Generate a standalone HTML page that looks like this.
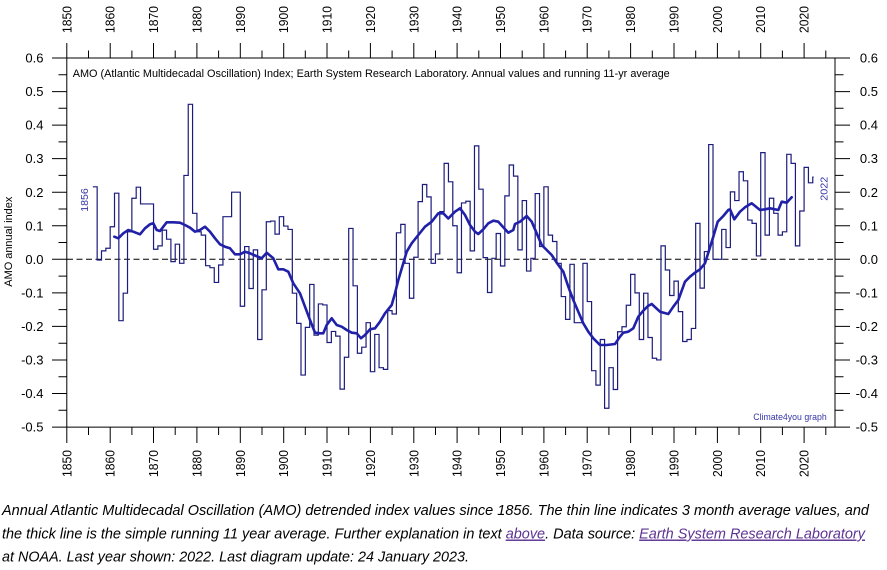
<!DOCTYPE html>
<html>
<head>
<meta charset="utf-8">
<style>
  html,body{margin:0;padding:0;background:#fff;}
  svg{display:block;}
  text{font-family:"Liberation Sans",Arial,sans-serif;}
</style>
</head>
<body>
<svg width="887" height="570" viewBox="0 0 887 570" xmlns="http://www.w3.org/2000/svg">
<rect x="0" y="0" width="887" height="570" fill="#fff"/>

<!-- axes -->
<g stroke="#000" stroke-width="1" fill="none">
  <path d="M52 58H850 M52 427.1H850 M66.8 43V443 M835 58V427.1"/>
  <!-- top major ticks -->
  <path d="M110.2 43V58 M153.5 43V58 M196.9 43V58 M240.3 43V58 M283.7 43V58 M327 43V58 M370.4 43V58 M413.8 43V58 M457.1 43V58 M500.5 43V58 M543.9 43V58 M587.2 43V58 M630.6 43V58 M674 43V58 M717.4 43V58 M760.7 43V58 M804.1 43V58"/>
  <!-- top minor ticks -->
  <path d="M88.5 50.5V58 M131.9 50.5V58 M175.2 50.5V58 M218.6 50.5V58 M262 50.5V58 M305.3 50.5V58 M348.7 50.5V58 M392.1 50.5V58 M435.5 50.5V58 M478.8 50.5V58 M522.2 50.5V58 M565.6 50.5V58 M608.9 50.5V58 M652.3 50.5V58 M695.7 50.5V58 M739 50.5V58 M782.4 50.5V58 M825.8 50.5V58"/>
  <!-- bottom major ticks -->
  <path d="M110.2 427V443 M153.5 427V443 M196.9 427V443 M240.3 427V443 M283.7 427V443 M327 427V443 M370.4 427V443 M413.8 427V443 M457.1 427V443 M500.5 427V443 M543.9 427V443 M587.2 427V443 M630.6 427V443 M674 427V443 M717.4 427V443 M760.7 427V443 M804.1 427V443"/>
  <!-- bottom minor ticks -->
  <path d="M88.5 427V435 M131.9 427V435 M175.2 427V435 M218.6 427V435 M262 427V435 M305.3 427V435 M348.7 427V435 M392.1 427V435 M435.5 427V435 M478.8 427V435 M522.2 427V435 M565.6 427V435 M608.9 427V435 M652.3 427V435 M695.7 427V435 M739 427V435 M782.4 427V435 M825.8 427V435"/>
  <!-- left major -->
  <path d="M52 91.6H67 M52 125.1H67 M52 158.6H67 M52 192.2H67 M52 225.8H67 M52 259.3H67 M52 292.9H67 M52 326.4H67 M52 360H67 M52 393.5H67"/>
  <!-- left minor -->
  <path d="M58.5 74.8H67 M58.5 108.3H67 M58.5 141.9H67 M58.5 175.4H67 M58.5 209H67 M58.5 242.5H67 M58.5 276.1H67 M58.5 309.6H67 M58.5 343.2H67 M58.5 376.7H67 M58.5 410.3H67"/>
  <!-- right major -->
  <path d="M835 91.6H850 M835 125.1H850 M835 158.6H850 M835 192.2H850 M835 225.8H850 M835 259.3H850 M835 292.9H850 M835 326.4H850 M835 360H850 M835 393.5H850"/>
  <!-- right minor -->
  <path d="M835 74.8H843.5 M835 108.3H843.5 M835 141.9H843.5 M835 175.4H843.5 M835 209H843.5 M835 242.5H843.5 M835 276.1H843.5 M835 309.6H843.5 M835 343.2H843.5 M835 376.7H843.5 M835 410.3H843.5"/>
</g>

<!-- zero dashed line -->
<path d="M67 259.3H835" stroke="#000" stroke-width="1" stroke-dasharray="6 3.5" fill="none"/>

<!-- left y labels -->
<g font-size="13" text-anchor="end" fill="#000">
  <text x="43.5" y="62.6">0.6</text>
  <text x="43.5" y="96.2">0.5</text>
  <text x="43.5" y="129.7">0.4</text>
  <text x="43.5" y="163.2">0.3</text>
  <text x="43.5" y="196.8">0.2</text>
  <text x="43.5" y="230.4">0.1</text>
  <text x="43.5" y="263.9">0.0</text>
  <text x="43.5" y="297.5">-0.1</text>
  <text x="43.5" y="331">-0.2</text>
  <text x="43.5" y="364.6">-0.3</text>
  <text x="43.5" y="398.1">-0.4</text>
  <text x="43.5" y="431.7">-0.5</text>
</g>
<!-- right y labels -->
<g font-size="13" text-anchor="end" fill="#000">
  <text x="878" y="62.6">0.6</text>
  <text x="878" y="96.2">0.5</text>
  <text x="878" y="129.7">0.4</text>
  <text x="878" y="163.2">0.3</text>
  <text x="878" y="196.8">0.2</text>
  <text x="878" y="230.4">0.1</text>
  <text x="878" y="263.9">0.0</text>
  <text x="878" y="297.5">-0.1</text>
  <text x="878" y="331">-0.2</text>
  <text x="878" y="364.6">-0.3</text>
  <text x="878" y="398.1">-0.4</text>
  <text x="878" y="431.7">-0.5</text>
</g>

<!-- top x labels -->
<g font-size="12.5" fill="#000">
  <text transform="translate(71.3,33) rotate(-90)" textLength="27" lengthAdjust="spacingAndGlyphs">1850</text>
  <text transform="translate(114.7,33) rotate(-90)" textLength="27" lengthAdjust="spacingAndGlyphs">1860</text>
  <text transform="translate(158,33) rotate(-90)" textLength="27" lengthAdjust="spacingAndGlyphs">1870</text>
  <text transform="translate(201.4,33) rotate(-90)" textLength="27" lengthAdjust="spacingAndGlyphs">1880</text>
  <text transform="translate(244.8,33) rotate(-90)" textLength="27" lengthAdjust="spacingAndGlyphs">1890</text>
  <text transform="translate(288.2,33) rotate(-90)" textLength="27" lengthAdjust="spacingAndGlyphs">1900</text>
  <text transform="translate(331.5,33) rotate(-90)" textLength="27" lengthAdjust="spacingAndGlyphs">1910</text>
  <text transform="translate(374.9,33) rotate(-90)" textLength="27" lengthAdjust="spacingAndGlyphs">1920</text>
  <text transform="translate(418.3,33) rotate(-90)" textLength="27" lengthAdjust="spacingAndGlyphs">1930</text>
  <text transform="translate(461.6,33) rotate(-90)" textLength="27" lengthAdjust="spacingAndGlyphs">1940</text>
  <text transform="translate(505,33) rotate(-90)" textLength="27" lengthAdjust="spacingAndGlyphs">1950</text>
  <text transform="translate(548.4,33) rotate(-90)" textLength="27" lengthAdjust="spacingAndGlyphs">1960</text>
  <text transform="translate(591.7,33) rotate(-90)" textLength="27" lengthAdjust="spacingAndGlyphs">1970</text>
  <text transform="translate(635.1,33) rotate(-90)" textLength="27" lengthAdjust="spacingAndGlyphs">1980</text>
  <text transform="translate(678.5,33) rotate(-90)" textLength="27" lengthAdjust="spacingAndGlyphs">1990</text>
  <text transform="translate(721.9,33) rotate(-90)" textLength="27" lengthAdjust="spacingAndGlyphs">2000</text>
  <text transform="translate(765.2,33) rotate(-90)" textLength="27" lengthAdjust="spacingAndGlyphs">2010</text>
  <text transform="translate(808.6,33) rotate(-90)" textLength="27" lengthAdjust="spacingAndGlyphs">2020</text>
</g>
<!-- bottom x labels -->
<g font-size="12.5" fill="#000">
  <text transform="translate(71.3,477) rotate(-90)" textLength="27" lengthAdjust="spacingAndGlyphs">1850</text>
  <text transform="translate(114.7,477) rotate(-90)" textLength="27" lengthAdjust="spacingAndGlyphs">1860</text>
  <text transform="translate(158,477) rotate(-90)" textLength="27" lengthAdjust="spacingAndGlyphs">1870</text>
  <text transform="translate(201.4,477) rotate(-90)" textLength="27" lengthAdjust="spacingAndGlyphs">1880</text>
  <text transform="translate(244.8,477) rotate(-90)" textLength="27" lengthAdjust="spacingAndGlyphs">1890</text>
  <text transform="translate(288.2,477) rotate(-90)" textLength="27" lengthAdjust="spacingAndGlyphs">1900</text>
  <text transform="translate(331.5,477) rotate(-90)" textLength="27" lengthAdjust="spacingAndGlyphs">1910</text>
  <text transform="translate(374.9,477) rotate(-90)" textLength="27" lengthAdjust="spacingAndGlyphs">1920</text>
  <text transform="translate(418.3,477) rotate(-90)" textLength="27" lengthAdjust="spacingAndGlyphs">1930</text>
  <text transform="translate(461.6,477) rotate(-90)" textLength="27" lengthAdjust="spacingAndGlyphs">1940</text>
  <text transform="translate(505,477) rotate(-90)" textLength="27" lengthAdjust="spacingAndGlyphs">1950</text>
  <text transform="translate(548.4,477) rotate(-90)" textLength="27" lengthAdjust="spacingAndGlyphs">1960</text>
  <text transform="translate(591.7,477) rotate(-90)" textLength="27" lengthAdjust="spacingAndGlyphs">1970</text>
  <text transform="translate(635.1,477) rotate(-90)" textLength="27" lengthAdjust="spacingAndGlyphs">1980</text>
  <text transform="translate(678.5,477) rotate(-90)" textLength="27" lengthAdjust="spacingAndGlyphs">1990</text>
  <text transform="translate(721.9,477) rotate(-90)" textLength="27" lengthAdjust="spacingAndGlyphs">2000</text>
  <text transform="translate(765.2,477) rotate(-90)" textLength="27" lengthAdjust="spacingAndGlyphs">2010</text>
  <text transform="translate(808.6,477) rotate(-90)" textLength="27" lengthAdjust="spacingAndGlyphs">2020</text>
</g>

<!-- y axis title -->
<text transform="translate(12,241.7) rotate(-90)" font-size="11" text-anchor="middle" fill="#000" textLength="90" lengthAdjust="spacingAndGlyphs">AMO annual index</text>

<!-- chart title -->
<text x="72.7" y="77" font-size="11.3" fill="#000" textLength="597" lengthAdjust="spacingAndGlyphs">AMO (Atlantic Multidecadal Oscillation) Index; Earth System Research Laboratory. Annual values and running 11-yr average</text>

<!-- annual step line -->
<g transform="translate(66.8,259.3) scale(4.337,-335.5)">
<path fill="none" stroke="#1c1c7c" stroke-width="1.2" vector-effect="non-scaling-stroke" stroke-linejoin="miter"
d="M6 .216 H7 V-.002 H8 V.025 H9 V.033 H10 V.097 H11 V.197 H12 V-.183 H13 V-.101 H14 V.082 H15 V.182 H16 V.215 H17 V.165 H20 V.03 H21 V.04 H22 V.087 H23 V.06 H24 V-.007 H25 V.045 H26 V-.012 H27 V.25 H28 V.462 H29 V.137 H30 V.082 H31 V.072 H32 V-.019 H33 V-.025 H34 V-.069 H35 V-.017 H36 V.127 H38 V.2 H40 V-.14 H41 V.038 H42 V-.087 H43 V.028 H44 V-.239 H45 V-.091 H46 V.112 H47 V.114 H48 V.075 H49 V.127 H50 V.099 H51 V.089 H52 V-.101 H53 V-.191 H54 V-.345 H55 V-.203 H56 V-.075 H57 V-.226 H58 V-.133 H59 V-.136 H60 V-.248 H61 V-.215 H62 V-.229 H63 V-.387 H64 V-.292 H65 V.092 H66 V-.079 H67 V-.28 H68 V-.262 H69 V-.189 H70 V-.335 H71 V-.224 H72 V-.323 H73 V-.328 H74 V-.153 H75 V-.163 H76 V.079 H77 V.104 H78 V-.012 H79 V-.116 H80 V.006 H81 V.172 H82 V.223 H83 V.186 H84 V-.012 H85 V.016 H86 V.142 H87 V.286 H88 V.231 H89 V.1 H90 V-.04 H91 V.168 H92 V.173 H93 V.025 H94 V.338 H95 V.209 H96 V.005 H97 V-.099 H98 V.003 H99 V.077 H100 V-.02 H101 V.189 H102 V.281 H103 V.248 H104 V.028 H105 V.175 H106 V-.035 H107 V.003 H108 V.196 H109 V.038 H110 V.216 H111 V.072 H112 V.053 H113 V-.012 H114 V-.111 H115 V-.179 H116 V-.015 H117 V-.189 H119 V-.012 H120 V-.126 H121 V-.332 H122 V-.375 H123 V-.239 H124 V-.444 H125 V-.323 H126 V-.388 H127 V-.216 H128 V-.201 H129 V-.137 H130 V-.045 H131 V-.1 H132 V-.239 H133 V-.101 H134 V-.233 H135 V-.295 H136 V-.3 H137 V.04 H138 V-.032 H139 V-.108 H140 V-.065 H141 V-.156 H142 V-.245 H143 V-.239 H144 V-.206 H145 V.107 H146 V-.086 H147 V.023 H148 V.342 H149 V0 H151 V.089 H152 V.035 H153 V.201 H154 V.175 H155 V.261 H156 V.234 H157 V.117 H158 V.107 H159 V.01 H160 V.318 H161 V.072 H162 V.182 H163 V.137 H164 V.072 H165 V.082 H166 V.313 H167 V.286 H168 V.04 H169 V.144 H170 V.274 H171 V.228 H172 V.245 H172.2"/>
</g>

<!-- 11-yr running average -->
<polyline fill="none" stroke="#2020a8" stroke-width="2.6" stroke-linejoin="round" stroke-linecap="round"
points="114.3,236.7 118.3,238.3 123.3,233.3 128.3,230 133.3,231.7 140,234.3 145,228.3 150,224.3 153.3,223.3 156.7,230 160,231 163.3,226.7 166.7,222.3 173.3,222.3 180,222.7 185,225 190,227.7 195,231.7 200,230 205,226.7 210,231.7 215,238.3 220,244.3 225,246.7 230,248.3 235,254.3 240,254.3 245,251.7 250,253.3 255,255.5 261.7,258.3 266.7,252.7 273.3,258.3 278.3,269.3 283.3,269.3 288.3,271.7 293.3,283.3 300,293.3 305,306.7 310,320 315,332.7 320,333.3 323.3,333.3 326.7,325 331.7,318.3 336.7,325 341.7,326.7 346.7,330 351.7,332.7 356.7,333.3 361,338.3 365,335 370,329.3 375,328.3 380,321.7 385,313.3 391.7,305 395,293.3 398.3,280 403.3,263.3 406.7,251.7 411.7,243.3 418.3,235 425,226.7 431.7,221.7 438.3,213.3 443.3,213.3 448.3,218.5 455,211.7 460,208.3 465,215 470,225 475,231.7 478.3,234 483.3,229.3 488.3,223.3 493.3,220.7 498.3,221.7 503.3,227.3 508.3,232.7 513.3,230 515,224 520,221.7 526.7,216 531.7,221.7 536.7,233.3 541.7,245 546.7,250 551.7,255 556.7,262.7 563.3,271.7 568.3,286.7 573.3,300 578.3,311.7 583.3,323.3 588.3,331.7 593.3,338.3 600,345 606.7,345 615,344 620,336.7 623.3,332.7 628.3,331.7 633.3,328.3 638.3,316.7 643.3,310.7 648,306 651.7,304 660,311.7 668.3,314 673.3,306.7 678.3,300 685,281.7 690,276.7 695,272.7 700,269.3 705,263.3 708.3,252.7 713.3,236.7 717.7,221.7 723.3,216 728.3,210 730,209.3 734.3,219.3 740,211.7 745,207.3 751.7,203.3 760,210 765,209.3 770,208.3 778.3,210 781.7,201.7 786.7,202.7 791.7,197.3"/>

<!-- year markers -->
<text transform="translate(88,211.7) rotate(-90)" font-size="10.5" fill="#3535a8" textLength="23.5" lengthAdjust="spacingAndGlyphs">1856</text>
<text transform="translate(827.5,200.7) rotate(-90)" font-size="10.5" fill="#3535a8" textLength="24" lengthAdjust="spacingAndGlyphs">2022</text>

<!-- credit -->
<text x="753.3" y="420" font-size="9.5" fill="#3535a8" textLength="73.4" lengthAdjust="spacingAndGlyphs">Climate4you graph</text>

<!-- caption -->
<g font-size="14.5" font-style="italic" fill="#000">
  <text x="2" y="515" textLength="867" lengthAdjust="spacingAndGlyphs">Annual Atlantic Multidecadal Oscillation (AMO) detrended index values since 1856. The thin line indicates 3 month average values, and</text>
  <text x="2" y="538.5" textLength="863" lengthAdjust="spacingAndGlyphs">the thick line is the simple running 11 year average. Further explanation in text <tspan fill="#5e3393" text-decoration="underline">above</tspan>. Data source: <tspan fill="#5e3393" text-decoration="underline">Earth System Research Laboratory</tspan></text>
  <text x="2" y="561.7" textLength="467" lengthAdjust="spacingAndGlyphs">at NOAA. Last year shown: 2022. Last diagram update: 24 January 2023.</text>
</g>
</svg>
</body>
</html>
